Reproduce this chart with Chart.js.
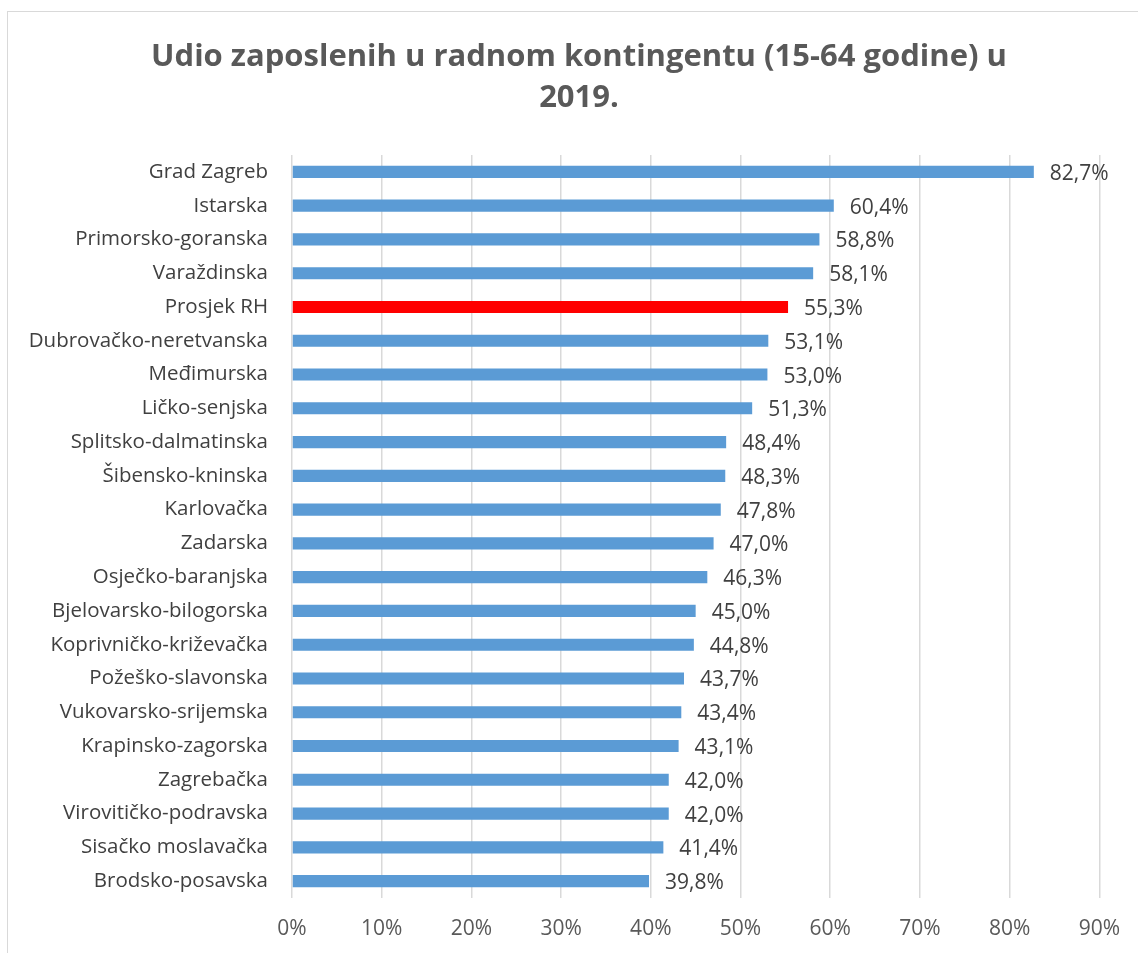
<!DOCTYPE html>
<html lang="hr">
<head>
    <meta charset="UTF-8">
    <title>Udio zaposlenih</title>
    <script src="https://cdn.jsdelivr.net/npm/chart.js@4.4.0/dist/chart.umd.min.js"></script>
    <style>
        body { margin: 0; background: #fff; }
        #frame { position: absolute; left: 7px; top: 11px; width: 1200px; height: 1000px; border: 1px solid #d9d9d9; }
        #wrap { position: absolute; left: 0; top: 0; width: 1138px; height: 953px; }
    </style>
</head>
<body>
    <div id="frame"></div>
    <div id="wrap"><canvas id="chart" width="1138" height="953"></canvas></div>
    <script>
        // zupanije, od najvece prema najmanjoj
        var regions = ['Grad Zagreb', 'Istarska', 'Primorsko-goranska', 'Varaždinska', 'Prosjek RH',
            'Dubrovačko-neretvanska', 'Međimurska', 'Ličko-senjska', 'Splitsko-dalmatinska', 'Šibensko-kninska',
            'Karlovačka', 'Zadarska', 'Osječko-baranjska', 'Bjelovarsko-bilogorska', 'Koprivničko-križevačka',
            'Požeško-slavonska', 'Vukovarsko-srijemska', 'Krapinsko-zagorska', 'Zagrebačka', 'Virovitičko-podravska',
            'Sisačko moslavačka', 'Brodsko-posavska'];
        var shares = [82.7, 60.4, 58.8, 58.1, 55.3, 53.1, 53.0, 51.3, 48.4, 48.3, 47.8, 47.0, 46.3, 45.0, 44.8,
            43.7, 43.4, 43.1, 42.0, 42.0, 41.4, 39.8];
        var xTicks = [0, 10, 20, 30, 40, 50, 60, 70, 80, 90];
        var titleLines = ['Udio zaposlenih u radnom kontingentu (15-64 godine) u', '2019.'];

        var barColors = regions.map(function (r) { return r === 'Prosjek RH' ? '#ff0000' : '#5b9bd5'; });

        function fmt(v) { return v.toFixed(1).replace('.', ',') + '%'; }

        // naslov centriran preko cijelog okvira
        var titleText = {
            id: 'titleText',
            afterDraw: function (chart) {
                var ctx = chart.ctx;
                ctx.save();
                ctx.font = 'bold 31px "Open Sans"';
                ctx.fillStyle = '#595959';
                ctx.textAlign = 'center';
                ctx.textBaseline = 'middle';
                titleLines.forEach(function (line, i) {
                    ctx.fillText(line, 579, 57 + i * 41);
                });
                ctx.restore();
            }
        };

        // oznake vrijednosti desno od stupaca
        var valueLabels = {
            id: 'valueLabels',
            afterDatasetsDraw: function (chart) {
                var ctx = chart.ctx;
                var meta = chart.getDatasetMeta(0);
                ctx.save();
                ctx.font = '21px "Open Sans"';
                ctx.fillStyle = '#404040';
                ctx.textAlign = 'left';
                ctx.textBaseline = 'middle';
                meta.data.forEach(function (bar, i) {
                    ctx.fillText(fmt(shares[i]), bar.x + 16, bar.y + 2);
                });
                ctx.restore();
            }
        };

        var chart = new Chart(document.getElementById('chart'), {
            type: 'bar',
            data: {
                labels: regions,
                datasets: [{
                    data: shares,
                    backgroundColor: barColors,
                    categoryPercentage: 1,
                    barPercentage: 0.36
                }]
            },
            options: {
                indexAxis: 'y',
                responsive: false,
                animation: false,
                devicePixelRatio: 1,
                layout: { padding: { left: 0, right: 38, top: 155, bottom: 14 } },
                plugins: {
                    legend: { display: false },
                    tooltip: { enabled: false },
                    title: { display: false }
                },
                scales: {
                    x: {
                        min: 0,
                        max: 90,
                        afterBuildTicks: function (axis) {
                            axis.ticks = xTicks.map(function (v) { return { value: v }; });
                        },
                        afterFit: function (axis) { axis.height = 41; },
                        ticks: {
                            padding: 18,
                            maxRotation: 0,
                            color: '#595959',
                            font: { family: 'Open Sans', size: 21 },
                            callback: function (v) { return v + '%'; }
                        },
                        grid: { color: '#d9d9d9', lineWidth: 1.5, drawTicks: false },
                        border: { display: false }
                    },
                    y: {
                        afterFit: function (axis) { axis.width = 292; },
                        ticks: {
                            padding: 24,
                            color: '#404040',
                            font: { family: 'Open Sans', size: 20.5 }
                        },
                        grid: { display: false, drawTicks: false },
                        border: { display: false }
                    }
                }
            },
            plugins: [valueLabels, titleText]
        });
    </script>
</body>
</html>
